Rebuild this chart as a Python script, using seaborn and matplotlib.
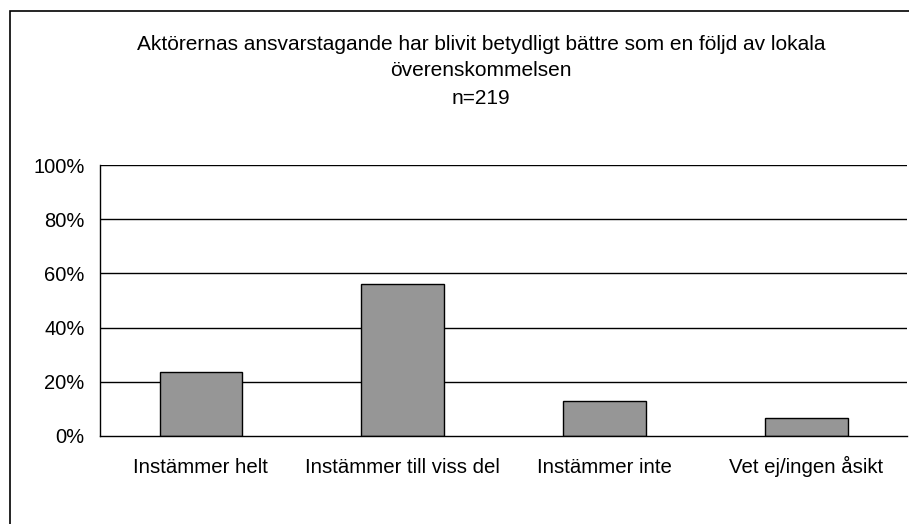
import pandas as pd
import matplotlib.pyplot as plt
import seaborn as sns
from matplotlib.patches import Rectangle
from matplotlib.ticker import PercentFormatter

# Data
categories = ["Instämmer helt", "Instämmer till viss del", "Instämmer inte", "Vet ej/ingen åsikt"]
shares = [23.5, 56.2, 13.0, 6.8]
y_ticks = [0, 20, 40, 60, 80, 100]
title_lines = [
    "Aktörernas ansvarstagande har blivit betydligt bättre som en följd av lokala",
    "överenskommelsen",
    "n=219",
]

df = pd.DataFrame({"category": categories, "share": shares})

sns.set_theme(style="white")
plt.rcParams["font.family"] = ["Liberation Sans", "DejaVu Sans"]
plt.rcParams["text.color"] = "black"

fig = plt.figure(figsize=(9.09, 5.24), dpi=100)
ax = fig.add_axes([0.110, 0.168, 0.888, 0.517])

sns.barplot(data=df, x="category", y="share", color="#969696",
            edgecolor="black", linewidth=1, width=0.41, saturation=1, ax=ax)

ax.set_ylim(0, 100)
ax.set_xlim(-0.5, len(categories) - 0.5)
ax.set_yticks(y_ticks)
ax.yaxis.set_major_formatter(PercentFormatter(decimals=0))
ax.set_xlabel("")
ax.set_ylabel("")

# horizontal gridlines behind bars
for t in y_ticks[1:]:
    ax.axhline(t, color="black", lw=1, zorder=0)

ax.set_axisbelow(True)
for side in ["top", "right"]:
    ax.spines[side].set_visible(False)
for side in ["left", "bottom"]:
    ax.spines[side].set_color("black")
    ax.spines[side].set_linewidth(1)

# category ticks sit between bars, like the original
ax.set_xticks([i + 0.5 for i in range(-1, len(categories))], minor=True)
ax.tick_params(axis="x", which="minor", length=5, width=1, color="black", direction="out")
ax.tick_params(axis="x", which="major", length=0, labelsize=14.7, pad=27, colors="black")
for lab in ax.get_xticklabels():
    lab.set_verticalalignment("baseline")
ax.tick_params(axis="y", length=5, width=1, color="black", direction="out",
               labelsize=14.5, pad=6, colors="black")

# title
for i, line in enumerate(title_lines):
    fig.text(0.529, 1 - [45, 71, 98][i] / 524, line, ha="center", va="center",
             fontsize=15, color="black")

# chart area frame that runs off the canvas
fig.patches.append(Rectangle((10 / 909, -0.5), 2, 1 - 11 / 524 + 0.5,
                             transform=fig.transFigure, fill=False,
                             edgecolor="black", lw=1.2))

fig.savefig("out.png", dpi=100)
